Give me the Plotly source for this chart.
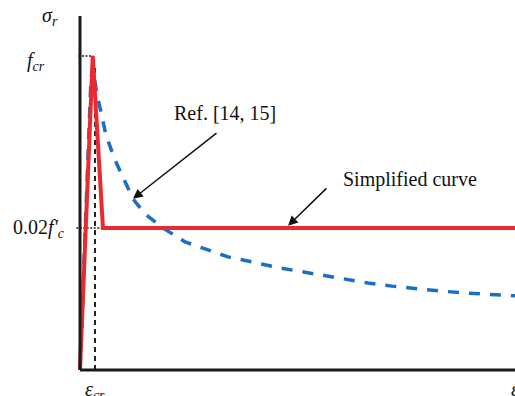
import plotly.graph_objects as go

# Normalised data: strain in units of eps_cr, stress in units of f_cr
ref_strain = [0, 0.13, 0.27, 0.40, 0.60, 0.73, 0.83, 0.93, 1.13, 1.40, 1.73, 2.33, 3.0, 3.53,
              4.33, 5.53, 7.0, 8.47, 9.87, 11.47, 13.0, 14.53, 16.13, 17.67, 19.2, 20.8,
              22.33, 23.87, 25.47, 27.0, 28.67, 29.0]
ref_stress = [0, 0.137, 0.350, 0.541, 0.764, 0.924, 0.962, 0.939, 0.876, 0.822, 0.748, 0.669,
              0.599, 0.545, 0.497, 0.452, 0.408, 0.382, 0.360, 0.344, 0.328, 0.315, 0.302,
              0.288, 0.277, 0.267, 0.259, 0.252, 0.246, 0.241, 0.237, 0.236]

simp_strain = [0, 0.85, 1.53, 29]
simp_stress = [0, 1.0, 0.452, 0.452]

eps_cr = 1.0
f_cr = 1.0
residual = 0.452
x_max = 29.0
y_top = 1.127

FONT = "Liberation Serif, Times New Roman, serif"

fig = go.Figure()

# dotted guide lines
fig.add_trace(go.Scatter(x=[-0.1, 0.85], y=[f_cr, f_cr], mode="lines",
                         line=dict(color="#222", width=1.5, dash="2px,1.5px"), showlegend=False))
fig.add_trace(go.Scatter(x=[-0.25, 1.5], y=[residual, residual], mode="lines",
                         line=dict(color="#222", width=1.5, dash="2px,1.5px"), showlegend=False))
# eps_cr dashed vertical
fig.add_trace(go.Scatter(x=[eps_cr, eps_cr], y=[0, 0.97], mode="lines",
                         line=dict(color="#222", width=2, dash="5px,4px"), showlegend=False))

# reference curve (blue dashed)
fig.add_trace(go.Scatter(x=ref_strain, y=ref_stress, mode="lines",
                         line=dict(color="#1b6fc2", width=3.5, dash="11px,10px"),
                         showlegend=False))
# simplified curve (red)
fig.add_trace(go.Scatter(x=simp_strain, y=simp_stress, mode="lines",
                         line=dict(color="#ea2a2e", width=4), showlegend=False))

# axes lines
fig.add_trace(go.Scatter(x=[0, 0], y=[0, y_top], mode="lines",
                         line=dict(color="#1a1a1a", width=3), showlegend=False))
fig.add_trace(go.Scatter(x=[0, x_max], y=[0, 0], mode="lines",
                         line=dict(color="#1a1a1a", width=3), showlegend=False))

def txt(x, y, s, size=20):
    fig.add_annotation(x=x, y=y, text=s, showarrow=False, xref="x", yref="y",
                       font=dict(family=FONT, size=size, color="#111"))

txt(-2.0, 1.124, "<i>σ<sub>r</sub></i>")
txt(-2.93, 0.981, "<i>f<sub>cr</sub></i>")
txt(-2.73, 0.452, "0.02<i>f'<sub>c</sub></i>")
txt(1.0, -0.065, "<i>ε<sub>cr</sub></i>")
txt(29.0, -0.06, "<i>ε</i>")
txt(9.67, 0.818, "Ref. [14, 15]")
txt(22.0, 0.605, "Simplified curve")

def arrow(x0, y0, x1, y1):
    fig.add_annotation(x=x1, y=y1, ax=x0, ay=y0, xref="x", yref="y", axref="x", ayref="y",
                       showarrow=True, arrowhead=2, arrowsize=1.3, arrowwidth=1.5,
                       arrowcolor="#111", text="")

arrow(9.2, 0.758, 3.53, 0.545)
arrow(16.53, 0.583, 13.87, 0.459)

fig.update_layout(
    width=515, height=396, margin=dict(l=0, r=0, t=0, b=0),
    paper_bgcolor="white", plot_bgcolor="white",
    xaxis=dict(range=[-5.333, 29.0], visible=False, fixedrange=True),
    yaxis=dict(range=[-0.0828, 1.178], visible=False, fixedrange=True),
)

fig.write_html("out.html")
